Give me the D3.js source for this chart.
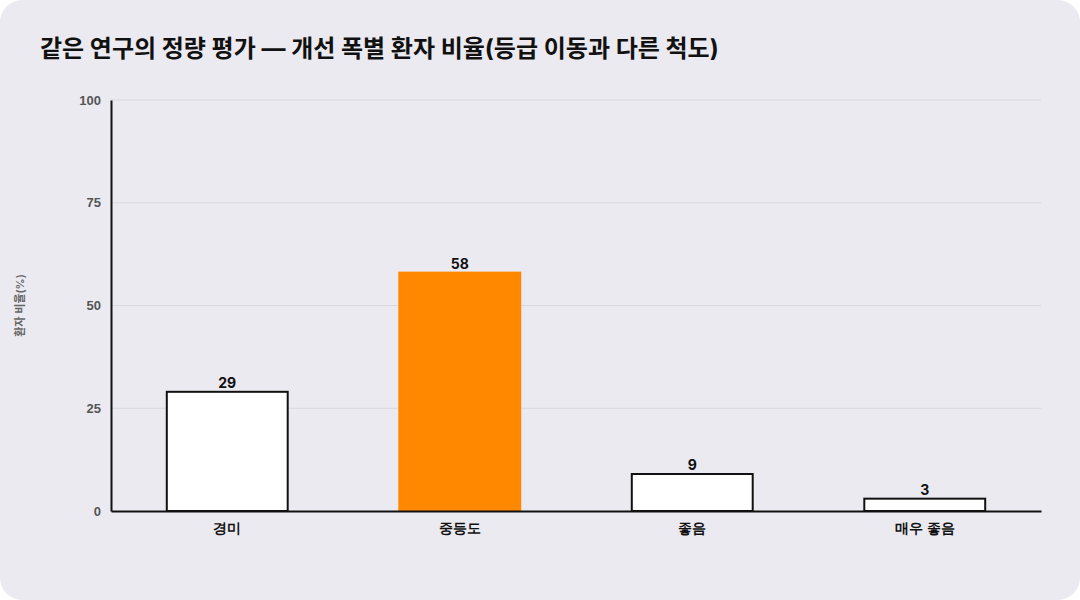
<!DOCTYPE html>
<html><head><meta charset="utf-8">
<script src="https://cdn.jsdelivr.net/npm/d3@7"></script>
<style>
body{margin:0;background:#fff;font-family:Inter,"Noto Sans CJK KR",sans-serif;}
</style></head><body>
<script>
const categories = ["경미", "중등도", "좋음", "매우 좋음"];
const values = [29, 58, 9, 3];
const highlight = "중등도";
const yTicks = [0, 25, 50, 75, 100];

const width = 1080, height = 600;
const margin = {top: 100, right: 39, bottom: 89, left: 111};

const svg = d3.select("body").append("svg")
    .attr("width", width).attr("height", height)
    .style("font-family", "Inter, 'Noto Sans CJK KR', sans-serif");

svg.append("rect").attr("width", width).attr("height", height)
    .attr("rx", 22).attr("fill", "#ebeaf0");

svg.append("text").attr("x", 40).attr("y", 57)
    .attr("font-size", 24).attr("font-weight", 700).attr("fill", "#111")
    .text("같은 연구의 정량 평가 — 개선 폭별 환자 비율(등급 이동과 다른 척도)");

const x = d3.scaleBand(categories, [margin.left, width - margin.right]).paddingInner(0.48).paddingOuter(0.24);
const y = d3.scaleLinear([0, 100], [height - margin.bottom, margin.top]);

// grid
svg.append("g").selectAll("line").data(yTicks.slice(1)).join("line")
    .attr("x1", margin.left).attr("x2", width - margin.right)
    .attr("y1", d => y(d)).attr("y2", d => y(d))
    .attr("stroke", "#d9d8de").attr("stroke-width", 1);

const yAxis = svg.append("g").attr("transform", `translate(${margin.left},0)`)
    .call(d3.axisLeft(y).tickValues(yTicks).tickSize(0).tickPadding(10));
yAxis.select(".domain").attr("stroke", "#111").attr("stroke-width", 2);
yAxis.selectAll("text").attr("font-size", 13).attr("font-weight", 600).attr("fill", "#555");

svg.selectAll(".bar").data(values).join("rect")
    .attr("x", (d, i) => x(categories[i]))
    .attr("y", d => y(d))
    .attr("width", x.bandwidth())
    .attr("height", d => y(0) - y(d))
    .attr("fill", (d, i) => categories[i] === highlight ? "#ff8800" : "#fff")
    .attr("stroke", (d, i) => categories[i] === highlight ? "#ff8800" : "#111")
    .attr("stroke-width", 2);

svg.selectAll(".lbl").data(values).join("text")
    .attr("x", (d, i) => x(categories[i]) + x.bandwidth() / 2)
    .attr("y", d => y(d) - 4)
    .attr("text-anchor", "middle").attr("font-size", 14).attr("font-weight", 700).attr("fill", "#111")
    .text(d => d);

const xAxis = svg.append("g").attr("transform", `translate(0,${y(0)})`)
    .call(d3.axisBottom(x).tickSize(0).tickPadding(12));
xAxis.select(".domain").attr("stroke", "#111").attr("stroke-width", 2);
xAxis.selectAll("text").attr("font-size", 14).attr("font-weight", 600).attr("fill", "#111");

svg.append("text")
    .attr("transform", `translate(24,${(margin.top + height - margin.bottom) / 2}) rotate(-90)`)
    .attr("text-anchor", "middle").attr("font-size", 11).attr("font-weight", 600).attr("fill", "#666")
    .text("환자 비율(%)");
</script>
</body></html>
